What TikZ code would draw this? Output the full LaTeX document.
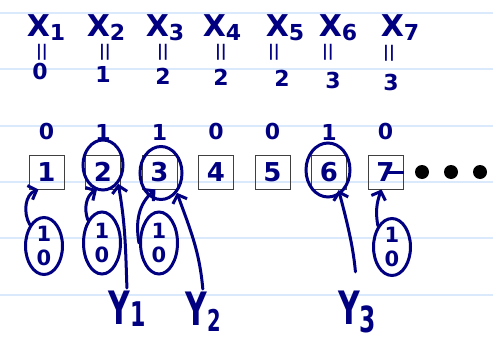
\documentclass[tikz,border=0pt]{standalone}
\usepackage{fontspec}
\setmainfont{DejaVu Sans}
\usetikzlibrary{positioning}
\usetikzlibrary{shapes.geometric}
\usetikzlibrary{arrows.meta}
\definecolor{ink}{RGB}{0,0,128}
\definecolor{ruling}{RGB}{218,234,252}
\newcommand{\idx}[2]{\raisebox{-#2pt}{#1}}
\newcommand{\narrow}[1]{\scalebox{0.65}[1]{#1}}
\tikzset{cell/.style={rectangle, draw=black!75, line width=1pt, minimum width=35pt, minimum height=34pt, inner sep=0pt, text=ink, font=\fontsize{26}{28}\selectfont\bfseries}}
\tikzset{hand/.style={text=ink, inner sep=1pt, font=\fontsize{22}{24}\selectfont\bfseries}}

\begin{document}
\begin{tikzpicture}[
    x=1pt, y=-1pt,
    var/.style={hand, font=\fontsize{30}{32}\selectfont\bfseries},
    ptr/.style={hand, font=\fontsize{46}{48}\selectfont\bfseries},
    eqs/.style={hand, font=\fontsize{16}{16}\selectfont\bfseries},
    ring/.style={ellipse, draw=ink, line width=3pt, minimum width=40pt, minimum height=50pt},
    pair/.style={ellipse, draw=ink, line width=3pt, text=ink, align=center, inner sep=0pt, minimum width=37pt, minimum height=57pt, font=\fontsize{21}{24}\selectfont\bfseries},
    arrow/.style={-{Straight Barb[length=7pt, width=15pt]}, draw=ink, line width=3pt, line cap=round},
    dot/.style={circle, fill=black, inner sep=0pt, minimum size=14pt}
]
\useasboundingbox (0,0) rectangle (493,348);

% Ruling
\foreach \r in {13,69,126,182,238,295}
  \draw[ruling, line width=1.5pt] (0,\r) -- (493,\r);

% Variables
\node[var] (x1) at (46,28) {X\idx{\fontsize{22}{22}\selectfont 1}{4}};
\node[var] (x2) at (106,28) {X\idx{\fontsize{22}{22}\selectfont 2}{4}};
\node[var] (x3) at (165,28) {X\idx{\fontsize{22}{22}\selectfont 3}{4}};
\node[var] (x4) at (222,28) {X\idx{\fontsize{22}{22}\selectfont 4}{4}};
\node[var] (x5) at (285,28) {X\idx{\fontsize{22}{22}\selectfont 5}{4}};
\node[var] (x6) at (338,28) {X\idx{\fontsize{22}{22}\selectfont 6}{4}};
\node[var] (x7) at (400,28) {X\idx{\fontsize{22}{22}\selectfont 7}{4}};
\node[eqs] (e1) at (42,52) {||};
\node[eqs] (e2) at (105,52) {||};
\node[eqs] (e3) at (163,52) {||};
\node[eqs] (e4) at (221,52) {||};
\node[eqs] (e5) at (274,52) {||};
\node[eqs] (e6) at (328,52) {||};
\node[eqs] (e7) at (389,53) {||};
\node[hand] (v1) at (40,71) {0};
\node[hand] (v2) at (103,74) {1};
\node[hand] (v3) at (163,76) {2};
\node[hand] (v4) at (221,77) {2};
\node[hand] (v5) at (282,78) {2};
\node[hand] (v6) at (333,80) {3};
\node[hand] (v7) at (391,82) {3};

% Cells
\node[cell] (b1) at (46.5,172) {1};
\node[cell] (b2) at (103,172) {2};
\node[cell] (b3) at (159.5,172) {3};
\node[cell] (b4) at (216,172) {4};
\node[cell] (b5) at (272.5,172) {5};
\node[cell] (b6) at (329,172) {6};
\node[cell] (b7) at (385.5,172) {7};
\node[dot] (d1) at (422,172) {};
\node[dot] (d2) at (451,172) {};
\node[dot] (d3) at (480,172) {};
\draw[ink, line width=3pt] (b7.center) -- (b7.east);

% Bits
\node[hand, above=13pt of b1] (t1) {0};
\node[hand, above=13pt of b2] (t2) {1};
\node[hand, above=13pt of b3] (t3) {1};
\node[hand, above=13pt of b4] (t4) {0};
\node[hand, above=13pt of b5] (t5) {0};
\node[hand, above=13pt of b6] (t6) {1};
\node[hand, above=13pt of b7] (t7) {0};

% Rings
\node[ring] (c2) at (103,165) {};
\node[ring, minimum width=42pt, minimum height=53pt] (c3) at (161,173) {};
\node[ring, minimum width=44pt, minimum height=54pt] (c6) at (328,170) {};

% Counters
\node[pair] (p1) at (44,246) {1\\0};
\node[pair, minimum height=62pt] (p2) at (102,243) {1\\0};
\node[pair, minimum height=62pt] (p3) at (159,243) {1\\0};
\node[pair] (p7) at (392,247) {1\\0};

% Pointers
\node[ptr] (y1) at (127,309) {\narrow{Y\idx{\fontsize{34}{34}\selectfont 1}{2}}};
\node[ptr] (y2) at (203,312) {\narrow{Y\idx{\fontsize{30}{30}\selectfont 2}{6}}};
\node[ptr] (y3) at (357,312) {\narrow{Y\idx{\fontsize{36}{36}\selectfont 3}{8}}};

% Paths
\draw[arrow] (p1.north west) to[out=120, in=200] ([xshift=10pt]b1.south west);
\draw[arrow] (p2.north west) to[out=110, in=210] ([xshift=12pt]b2.south west);
\draw[arrow] (p3.west) to[out=100, in=220] ([xshift=14pt]b3.south west);
\draw[arrow] (p7.north west) to[out=100, in=250] ([xshift=14pt]b7.south west);
\draw[arrow, shorten <=2pt] (y1.north) to[out=92, in=-80] (c2.south east);
\draw[arrow, shorten <=2pt] (y2.north) to[out=95, in=-70] (c3.south east);
\draw[arrow, shorten <=18pt] (y3.north) to[out=95, in=-75] ([xshift=-6pt]c6.south east);

\end{tikzpicture}
\end{document}
